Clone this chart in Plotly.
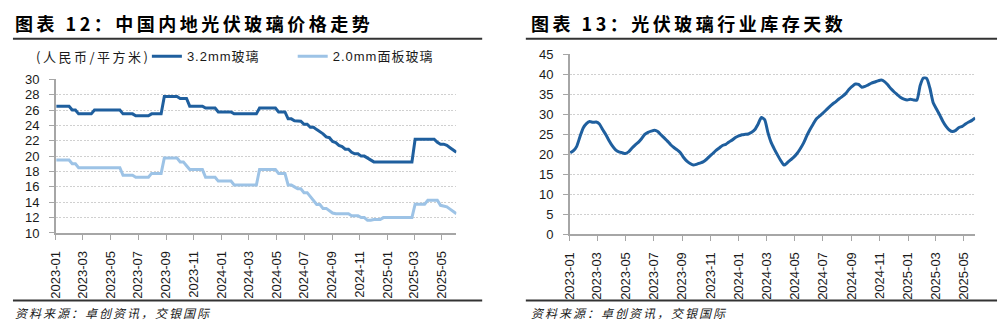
import pandas as pd
import plotly.graph_objects as go

# ---- 光伏玻璃价格（元/平方米，周度）----
price_32mm = [
    26.5, 26.5, 26.5, 26.5, 26.5, 26.0, 26.0, 25.5, 25.5, 25.5, 25.5, 25.5,
    26.0, 26.0, 26.0, 26.0, 26.0, 26.0, 26.0, 26.0, 26.0, 25.5, 25.5, 25.5, 25.5,
    25.25, 25.25, 25.25, 25.25, 25.25, 25.5, 25.5, 25.5, 25.5,
    27.75, 27.75, 27.75, 27.75, 27.75, 27.5, 27.5, 27.5,
    26.5, 26.5, 26.5, 26.5, 26.5, 26.25, 26.25, 26.25, 26.25,
    25.75, 25.75, 25.75, 25.75, 25.75,
    25.5, 25.5, 25.5, 25.5, 25.5, 25.5, 25.5, 25.5,
    26.25, 26.25, 26.25, 26.25, 26.25, 26.25, 25.75, 25.75, 25.75,
    24.85, 24.85, 24.6, 24.55, 24.55, 24.15, 24.15, 23.75, 23.75, 23.45, 23.2,
    22.9, 22.5, 22.4, 21.9, 21.75, 21.4, 21.25, 20.9, 20.9, 20.5, 20.3, 20.3,
    20.0, 20.0, 19.75, 19.5,
    19.25, 19.25, 19.25, 19.25, 19.25, 19.25, 19.25, 19.25, 19.25, 19.25, 19.25, 19.25, 19.25,
    22.2, 22.2, 22.2, 22.2, 22.2, 22.2, 22.2,
    21.8, 21.55, 21.55, 21.4, 21.1, 20.85, 20.5,
]
price_20mm = [
    19.5, 19.5, 19.5, 19.5, 19.5, 19.0, 19.0,
    18.5, 18.5, 18.5, 18.5, 18.5, 18.5, 18.5, 18.5, 18.5, 18.5, 18.5, 18.5, 18.5, 18.5,
    17.5, 17.5, 17.5, 17.5, 17.25, 17.25, 17.25, 17.25, 17.25,
    17.75, 17.75, 17.75, 17.75, 19.75, 19.75, 19.75, 19.75, 19.75,
    19.25, 19.25, 18.75, 18.25, 18.25, 18.25, 18.25, 18.25,
    17.25, 17.25, 17.25, 17.25, 16.75, 16.75, 16.75, 16.75, 16.75,
    16.25, 16.25, 16.25, 16.25, 16.25, 16.25, 16.25, 16.25,
    18.25, 18.25, 18.25, 18.25, 18.25, 18.25, 17.75, 17.75, 17.75,
    16.25, 16.25, 16.0, 15.75, 15.75, 15.25, 15.25, 14.75, 14.35,
    13.7, 13.7, 13.2, 13.2, 12.9, 12.6, 12.5, 12.5, 12.5, 12.5, 12.5,
    12.25, 12.25, 12.25, 12.0, 12.0, 11.65, 11.65, 11.75, 11.75, 11.75,
    12.0, 12.0, 12.0, 12.0, 12.0, 12.0, 12.0, 12.0, 12.0, 12.0,
    13.75, 13.75, 13.75, 13.75, 14.25, 14.25, 14.25, 14.25,
    13.6, 13.5, 13.4, 13.1, 12.85, 12.5,
]

# ---- 光伏玻璃行业库存天数（周度）----
inventory_days = [
    20.4, 20.9, 22.0, 24.4, 26.6, 27.7, 28.2, 28.0, 28.1, 27.6, 26.2, 24.9,
    23.4, 22.1, 21.1, 20.6, 20.4, 20.2, 20.6, 21.5, 22.3, 23.0, 23.9, 25.0,
    25.5, 25.8, 26.0, 25.7, 24.9, 24.1, 23.3, 22.4, 21.7, 21.1, 20.4, 19.2,
    18.3, 17.7, 17.3, 17.5, 17.8, 18.1, 18.7, 19.5, 20.2, 21.0, 21.6, 22.2,
    22.5, 23.1, 23.6, 24.2, 24.6, 24.9, 25.0, 25.1, 25.5, 26.2, 27.6, 29.2,
    28.7, 25.5, 23.0, 21.3, 19.8, 18.4, 17.3, 17.9, 18.6, 19.3, 20.2, 21.4,
    22.8, 24.6, 26.2, 27.6, 28.9, 29.6, 30.3, 31.1, 31.9, 32.6, 33.2, 33.9,
    34.5, 35.2, 36.2, 37.0, 37.6, 37.5, 36.8, 37.0, 37.4, 37.8, 38.1, 38.4,
    38.6, 38.2, 37.4, 36.4, 35.6, 34.9, 34.2, 33.8, 33.6, 33.8, 33.6, 33.6,
    37.2, 39.1, 39.0, 36.6, 33.0, 31.4, 29.9, 28.3, 27.0, 26.1, 25.7, 26.0,
    26.7, 27.0, 27.6, 28.1, 28.5, 29.1,
]

series_names = ["3.2mm玻璃", "2.0mm面板玻璃"]
titles = ["图表 12：中国内地光伏玻璃价格走势", "图表 13：光伏玻璃行业库存天数"]
unit_label = "(人民币/平方米)"
source_label = "资料来源：卓创资讯，交银国际"

price_dates = pd.date_range("2023-01-02", periods=len(price_32mm), freq="7D")
inv_dates = pd.date_range("2023-01-02", periods=len(inventory_days), freq="7D")

W, H = 1002, 331
DARK = "#1F5F9E"
LIGHT = "#9DC3E6"
AXIS = "#A6A6A6"
GRID = "#D0D0D0"
TXT = "#1A1A1A"
LATIN = "Liberation Sans, Noto Sans CJK SC, sans-serif"
CJK = "Noto Sans CJK SC, sans-serif"


def px(x):
    return x / W


def py(y):
    return 1 - y / H


def spaced(text, ls):
    return f'<span style="letter-spacing:{ls}px">{text}</span>'


fig = go.Figure()

fig.add_trace(go.Scatter(
    x=price_dates, y=price_32mm, name=spaced(series_names[0], 1),
    mode="lines", line=dict(color=DARK, width=3),
    xaxis="x", yaxis="y", legend="legend",
))
fig.add_trace(go.Scatter(
    x=price_dates, y=price_20mm, name=spaced(series_names[1], 1),
    mode="lines", line=dict(color=LIGHT, width=3),
    xaxis="x", yaxis="y", legend="legend2",
))
fig.add_trace(go.Scatter(
    x=inv_dates, y=inventory_days, mode="lines",
    line=dict(color=DARK, width=3, shape="spline", smoothing=0.6),
    xaxis="x2", yaxis="y2", showlegend=False,
))

xcommon = dict(
    type="date", tickformat="%Y-%m", dtick="M2", tick0="2023-01-01",
    tickangle=-90, ticks="outside", ticklen=5, tickcolor=AXIS, tickwidth=1,
    showline=True, linecolor=AXIS, linewidth=1.5, showgrid=False,
    tickfont=dict(family=LATIN, size=13, color=TXT), ticklabelstandoff=6,
)
ycommon = dict(
    showgrid=True, gridcolor=GRID, griddash="2px,1.5px", gridwidth=1,
    showline=True, linecolor=AXIS, linewidth=1.5, zeroline=False,
    ticks="outside", ticklen=5, tickcolor=AXIS, tickwidth=1,
    tickfont=dict(family=LATIN, size=13, color=TXT), ticklabelstandoff=7,
)

fig.update_layout(
    width=W, height=H,
    margin=dict(l=0, r=0, t=0, b=0),
    paper_bgcolor="white", plot_bgcolor="white",
    xaxis=dict(domain=[px(48.3), px(452)], range=["2023-01-01", "2025-06-02"],
               anchor="y", **xcommon),
    yaxis=dict(domain=[py(236.7), py(75.7)], range=[10, 30], dtick=2,
               anchor="x", **ycommon),
    xaxis2=dict(domain=[px(566.3), px(975)], range=["2023-01-01", "2025-05-26"],
                anchor="y2", **xcommon),
    yaxis2=dict(domain=[py(238), py(49.7)], range=[0, 45], dtick=5,
                anchor="x2", **ycommon),
    legend=dict(orientation="h", x=px(140), y=py(51.7), xanchor="left", yanchor="middle",
                itemwidth=30, font=dict(family=LATIN, size=13, color=TXT),
                bgcolor="rgba(0,0,0,0)"),
    legend2=dict(orientation="h", x=px(287), y=py(51.7), xanchor="left", yanchor="middle",
                 itemwidth=30, font=dict(family=LATIN, size=13, color=TXT),
                 bgcolor="rgba(0,0,0,0)"),
)

annotations = []
for x0, t in zip([5, 525], titles):
    annotations.append(dict(
        text="<b>" + spaced(t, 3.5) + "</b>", x=px(x0), y=py(17),
        xref="paper", yref="paper", xanchor="left", yanchor="middle",
        showarrow=False, font=dict(family=CJK, size=18, color="#000000"),
    ))
    annotations.append(dict(
        text="<i>" + spaced(source_label, 2) + "</i>", x=px(x0), y=py(320),
        xref="paper", yref="paper", xanchor="left", yanchor="middle",
        showarrow=False, font=dict(family=CJK, size=12, color=TXT),
    ))
annotations.append(dict(
    text=spaced(unit_label, 2.5), x=px(26), y=py(51.7),
    xref="paper", yref="paper", xanchor="left", yanchor="middle",
    showarrow=False, font=dict(family=CJK, size=13, color=TXT),
))
fig.update_layout(annotations=annotations)

# 标题下划线与底部分隔线
shapes = []
for (xa, xb) in [(5, 478), (522, 997)]:
    for yy in (33.3, 307.5):
        shapes.append(dict(type="line", xref="paper", yref="paper",
                           x0=px(xa), x1=px(xb), y0=py(yy), y1=py(yy),
                           line=dict(color="#333333", width=2)))
fig.update_layout(shapes=shapes)

fig.write_html("out.html")
